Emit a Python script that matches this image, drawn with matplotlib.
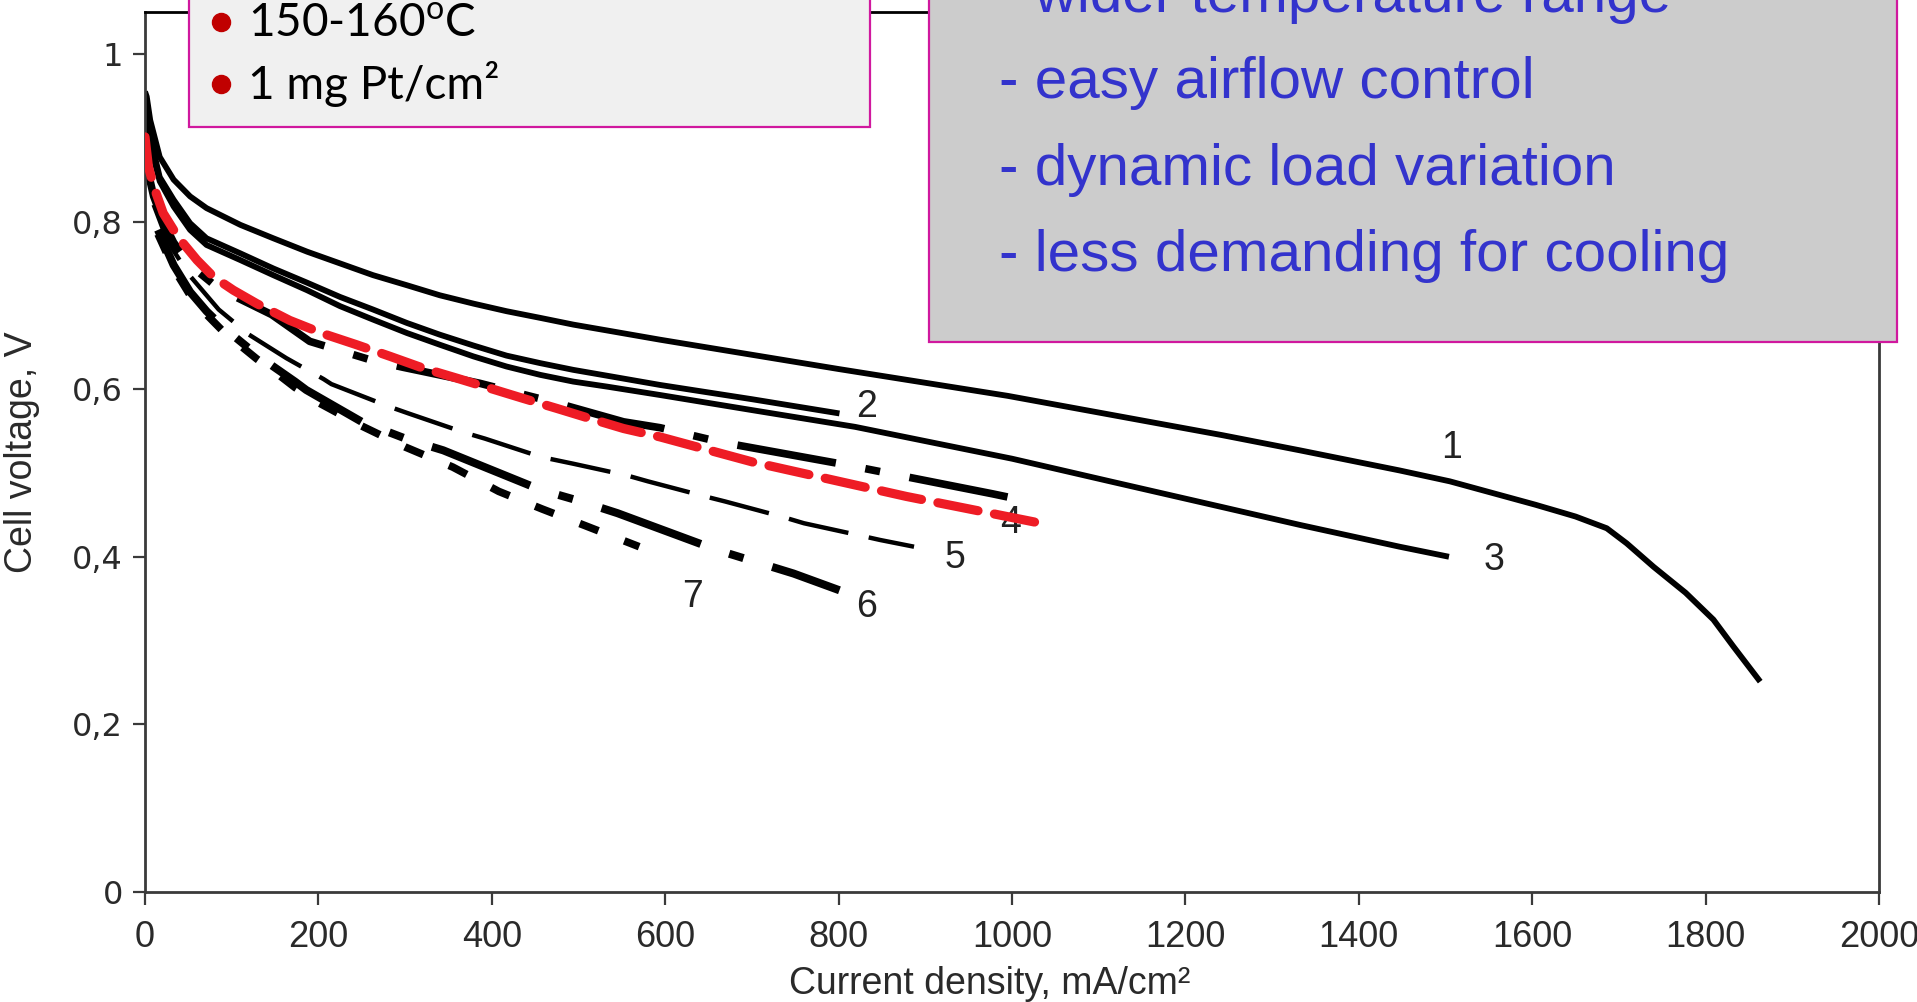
import matplotlib
matplotlib.use("Agg")
import matplotlib.pyplot as plt
from matplotlib.patches import Rectangle
from matplotlib.lines import Line2D

# Polarisation curves: current density (mA/cm²) vs cell voltage (V)
c1_j = [0, 2, 6, 17, 33, 52, 71, 110, 148, 187, 225, 263, 302, 340, 379, 417, 456, 494,
        533, 594, 700, 800, 995, 1243, 1332, 1447, 1505, 1604, 1650, 1686, 1709, 1740,
        1777, 1809, 1832, 1863]
c1_v = [0.955, 0.949, 0.921, 0.877, 0.850, 0.830, 0.816, 0.796, 0.780, 0.764, 0.750,
        0.736, 0.724, 0.712, 0.702, 0.693, 0.685, 0.677, 0.670, 0.659, 0.641, 0.624,
        0.592, 0.545, 0.527, 0.503, 0.49, 0.462, 0.448, 0.434, 0.416, 0.388, 0.357, 0.325,
        0.293, 0.251]

c2_j = [0, 5, 17, 33, 52, 71, 110, 148, 187, 225, 263, 302, 340, 379, 417, 456, 494, 533,
        594, 700, 801]
c2_v = [0.935, 0.905, 0.853, 0.826, 0.798, 0.780, 0.762, 0.744, 0.727, 0.710, 0.695, 0.679,
        0.665, 0.652, 0.640, 0.631, 0.623, 0.616, 0.605, 0.588, 0.571]

c3_j = [0, 5, 17, 33, 52, 71, 110, 148, 187, 225, 263, 302, 340, 379, 417, 456, 494, 533,
        594, 700, 819, 1000, 1113, 1332, 1447, 1504]
c3_v = [0.93, 0.895, 0.848, 0.818, 0.790, 0.772, 0.754, 0.736, 0.718, 0.699, 0.683, 0.667,
        0.653, 0.639, 0.627, 0.617, 0.609, 0.603, 0.593, 0.575, 0.555, 0.517, 0.490, 0.438,
        0.412, 0.400]

c4_j = [0, 10, 21, 33, 52, 85, 146, 190, 263, 298, 386, 473, 552, 594, 663, 807, 978, 1001]
c4_v = [0.875, 0.83, 0.80, 0.775, 0.748, 0.720, 0.689, 0.657, 0.634, 0.626, 0.607, 0.584,
        0.561, 0.554, 0.537, 0.51, 0.475, 0.47]

c5_j = [10, 21, 33, 52, 85, 120, 163, 206, 215, 282, 304, 369, 392, 457, 494, 556, 580,
        646, 669, 734, 760, 822, 848, 887]
c5_v = [0.82, 0.79, 0.765, 0.735, 0.695, 0.665, 0.637, 0.612, 0.606, 0.579, 0.571, 0.548,
        0.541, 0.519, 0.511, 0.497, 0.490, 0.472, 0.466, 0.448, 0.440, 0.426, 0.420, 0.412]

c6_j = [15, 33, 52, 71, 90, 110, 129, 148, 173, 186, 250, 303, 344, 456, 503, 545, 660, 704,
        748, 801]
c6_v = [0.79, 0.748, 0.716, 0.693, 0.674, 0.657, 0.641, 0.627, 0.609, 0.599, 0.561, 0.540,
        0.527, 0.480, 0.466, 0.452, 0.408, 0.394, 0.380, 0.360]

c7_j = [15, 33, 52, 71, 90, 110, 129, 148, 173, 200, 250, 300, 355, 408, 458, 508, 570]
c7_v = [0.785, 0.744, 0.712, 0.689, 0.669, 0.652, 0.636, 0.622, 0.602, 0.584, 0.556, 0.531,
        0.507, 0.478, 0.457, 0.437, 0.412]

# HT-PEM curve highlighted in red
ht_j = [0, 4, 10, 21, 33, 44, 60, 79, 102, 129, 167, 206, 244, 283, 321, 360, 398, 436,
        475, 513, 552, 594, 701, 878, 1033]
ht_v = [0.901, 0.865, 0.842, 0.810, 0.790, 0.774, 0.754, 0.734, 0.718, 0.702, 0.682, 0.666,
        0.653, 0.639, 0.625, 0.613, 0.601, 0.589, 0.577, 0.565, 0.553, 0.543, 0.513, 0.472,
        0.44]

curve_names = ["1", "2", "3", "4", "5", "6", "7"]
name_j = [1507, 832, 1556, 998, 934, 832, 631]
name_v = [0.53, 0.579, 0.396, 0.44, 0.398, 0.340, 0.352]

x_ticks = [0, 200, 400, 600, 800, 1000, 1200, 1400, 1600, 1800, 2000]
y_ticks = [0, 0.2, 0.4, 0.6, 0.8, 1.0]
y_tick_labels = ["0", "0,2", "0,4", "0,6", "0,8", "1"]

conditions = ["150-160$^{\\mathrm{o}}$C", "1 mg Pt/cm²"]
advantages = ["- wider temperature range", "- easy airflow control",
              "- dynamic load variation", "- less demanding for cooling"]

plt.rcParams["lines.scale_dashes"] = False
plt.rcParams["mathtext.fontset"] = "custom"
plt.rcParams["mathtext.rm"] = "Lato"

W, H = 1917, 1002
fig = plt.figure(figsize=(W / 100, H / 100), dpi=100)
fig.patch.set_facecolor("white")

ax = fig.add_axes([145 / W, 1 - 892 / H, (1879 - 145) / W, (892 - 12) / H])
ax.set_xlim(0, 2000)
ax.set_ylim(0, 1.05)

spine_col = "#3a3a3a"
for s in ax.spines.values():
    s.set_color(spine_col)
    s.set_linewidth(2.0)
ax.spines["top"].set_color("black")

ax.set_xticks(x_ticks)
ax.set_xticklabels([str(t) for t in x_ticks])
ax.set_yticks(y_ticks)
ax.set_yticklabels(y_tick_labels)
ax.tick_params(axis="both", direction="out", length=9, width=1.6, color=spine_col,
               labelcolor="#2a2a2a")
ax.tick_params(axis="x", pad=11, labelsize=26)
ax.tick_params(axis="y", pad=7, labelsize=23)
for lab in ax.get_xticklabels():
    lab.set_fontfamily("Liberation Sans")
for lab in ax.get_yticklabels():
    lab.set_fontfamily("DejaVu Sans")

ax.set_xlabel("Current density, mA/cm²", fontsize=27, family="Liberation Sans",
              color="#2a2a2a")
ax.xaxis.label.set_va("center")
ax.xaxis.set_label_coords(0.487, -0.104)
ax.set_ylabel("Cell voltage, V", fontsize=27, family="Liberation Sans", color="#2a2a2a")
ax.yaxis.label.set_va("center")
ax.yaxis.label.set_ha("center")
ax.yaxis.set_label_coords(-0.071, 0.5)

solid = dict(color="black", lw=4.2, solid_capstyle="butt", solid_joinstyle="round")
ax.plot(c1_j, c1_v, **solid)
ax.plot(c2_j, c2_v, **solid)
ax.plot(c3_j, c3_v, **solid)
ax.plot(c4_j, c4_v, color="black", lw=5.5, dashes=[72, 21.6, 10.8, 21.6],
        dash_capstyle="butt", solid_joinstyle="round")
ax.plot(c5_j, c5_v, color="black", lw=3.2, dashes=[44, 15], dash_capstyle="butt")
ax.plot(c6_j, c6_v, color="black", lw=5.8, dashes=[76, 21.6, 10.8, 21.6],
        dash_capstyle="butt")
ax.plot(c7_j, c7_v, color="black", lw=5.5, dashes=[14.4, 20], dash_capstyle="butt")

for name, j, v in zip(curve_names, name_j, name_v):
    ax.text(j, v, name, fontsize=27, family="Liberation Sans", color="#222222",
            ha="center", va="center", zorder=3)

ax.plot(ht_j, ht_v, color="#ee1c25", lw=6.6, dashes=[29.5, 12], dash_capstyle="round",
        zorder=5)

# Text boxes on top of the chart
pink = "#d0189e"
box1 = Rectangle((189 / W, 1 - 126.7 / H), (870 - 189) / W, 0.2, transform=fig.transFigure,
                 facecolor="#f0f0f0", edgecolor=pink, lw=1.6, zorder=10)
box2 = Rectangle((929 / W, 1 - 341.7 / H), (1897 - 929) / W, 0.5, transform=fig.transFigure,
                 facecolor="#cccccc", edgecolor=pink, lw=1.6, zorder=10)
fig.add_artist(box1)
fig.add_artist(box2)

for k, txt in enumerate(conditions):
    base = [36.7, 99.0][k]
    bullet = Line2D([221 / W], [1 - (base - 15) / H], transform=fig.transFigure,
                    marker="o", markersize=13, color="#c00000", linestyle="none", zorder=11)
    fig.add_artist(bullet)
    fig.text(248 / W, 1 - base / H, txt, fontsize=33, family="Lato", color="black",
             ha="left", va="baseline", zorder=11)

for k, txt in enumerate(advantages):
    base = [12.0, 98.3, 185.0, 270.7][k]
    fig.text(999 / W, 1 - base / H, txt, fontsize=42, family="Liberation Sans",
             color="#3333cc", ha="left", va="baseline", zorder=11)

fig.savefig("out.png", dpi=100)
